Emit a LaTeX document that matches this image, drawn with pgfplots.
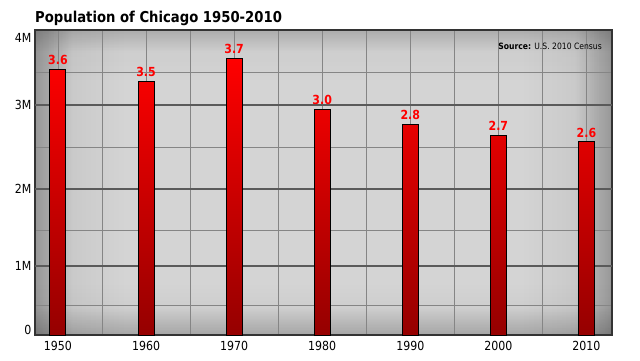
\documentclass[border=0pt]{standalone}
\usepackage{pgfplots}
\pgfplotsset{compat=1.18}
\usepackage{pgfplotstable}
\usepackage{fontspec}
\setmainfont{DejaVu Sans}[FakeStretch=0.88]
\usetikzlibrary{calc,fadings}
\definecolor{bgc}{HTML}{D4D4D4}
\definecolor{barTop}{HTML}{FF0000}
\definecolor{barMid}{HTML}{D00000}
\definecolor{barBot}{HTML}{950000}
\definecolor{gridMaj}{HTML}{5A5A5A}
\definecolor{gridMin}{HTML}{858585}
\tikzfading[name=fadeL, left color=transparent!0, right color=transparent!100]
\tikzfading[name=fadeR, right color=transparent!0, left color=transparent!100]
\tikzfading[name=fadeT, top color=transparent!0, bottom color=transparent!100]
\tikzfading[name=fadeB, bottom color=transparent!0, top color=transparent!100]

\pgfplotstableread{
year val lab
1950 3.59 3.6
1960 3.43 3.5
1970 3.74 3.7
1980 3.05 3.0
1990 2.85 2.8
2000 2.70 2.7
2010 2.61 2.6
}\pop

\begin{document}
\begin{tikzpicture}
\useasboundingbox (0pt,0pt) rectangle (640pt,360pt);
\begin{axis}[
  at={(35pt,25pt)}, anchor=south west,
  scale only axis, width=577pt, height=305pt,
  xmin=1947.39, xmax=2012.9, ymin=0, ymax=4.122,
  axis background/.style={fill=bgc, path picture={
    \coordinate (SW) at (path picture bounding box.south west);
    \coordinate (NE) at (path picture bounding box.north east);
    \coordinate (NW) at (path picture bounding box.north west);
    \coordinate (SE) at (path picture bounding box.south east);
    % left
    \fill[black, fill opacity=0.10, path fading=fadeL] ($(SW)+(-30pt,0pt)$) rectangle ($(NW)+(90pt,0pt)$);
    \fill[black, fill opacity=0.30, path fading=fadeL] ($(SW)+(-12.5pt,0pt)$) rectangle ($(NW)+(37.5pt,0pt)$);
    % right
    \fill[black, fill opacity=0.10, path fading=fadeR] ($(SE)+(-90pt,0pt)$) rectangle ($(NE)+(30pt,0pt)$);
    \fill[black, fill opacity=0.30, path fading=fadeR] ($(SE)+(-37.5pt,0pt)$) rectangle ($(NE)+(12.5pt,0pt)$);
    % top
    \fill[black, fill opacity=0.06, path fading=fadeT] ($(NW)+(0pt,-52pt)$) rectangle ($(NE)+(0pt,17pt)$);
    \fill[black, fill opacity=0.19, path fading=fadeT] ($(NW)+(0pt,-21pt)$) rectangle ($(NE)+(0pt,7pt)$);
    % bottom
    \fill[black, fill opacity=0.07, path fading=fadeB] ($(SW)+(0pt,-17pt)$) rectangle ($(SE)+(0pt,52pt)$);
    \fill[black, fill opacity=0.23, path fading=fadeB] ($(SW)+(0pt,-9pt)$) rectangle ($(SE)+(0pt,27pt)$);
  }},
  axis line style={draw=black!80, line width=1.4pt},
  xtick={1950,1960,...,2010},
  minor xtick={1955,1965,...,2005},
  xmajorgrids, xminorgrids,
  major x grid style={gridMin, line width=0.8pt},
  minor x grid style={gridMin, line width=0.8pt},
  ytick={0.07,0.932,1.973,3.108,4.014},
  yticklabels={0,1M,2M,3M,4M},
  minor ytick={0.405,1.419,2.541,3.554},
  yminorgrids,
  minor y grid style={gridMin, line width=0.8pt},
  extra y ticks={0.932,1.973,3.108},
  extra y tick labels={},
  extra y tick style={ymajorgrids=true, major y grid style={gridMaj, line width=1.5pt}},
  major tick length=0pt, minor tick length=0pt,
  tick style={draw=none},
  ticklabel style={font=\fontsize{12.5}{13}\selectfont, text=black},
  xticklabel style={yshift=-3pt},
  /pgf/number format/assume math mode=true,
  /pgf/number format/1000 sep={},
]
\addplot[ybar, bar width=16pt, draw=black, line width=1pt,
  top color=barTop, middle color=barMid, bottom color=barBot,
  nodes near coords, point meta=explicit symbolic,
  nodes near coords style={font=\bfseries\fontsize{12.5}{13}\selectfont, text=red, anchor=south, inner sep=0pt, yshift=4pt}]
  table[x=year, y=val, meta=lab]{\pop};
\end{axis}
\node[anchor=base west, font=\bfseries\fontsize{15}{16}\selectfont, inner sep=0pt] at (35pt,337.3pt) {Population of Chicago 1950-2010};
\node[anchor=base east, font=\fontsize{8.7}{9}\selectfont, inner sep=0pt] at (602pt,311pt) {\textbf{Source:} U.S. 2010 Census};
\end{tikzpicture}
\end{document}
